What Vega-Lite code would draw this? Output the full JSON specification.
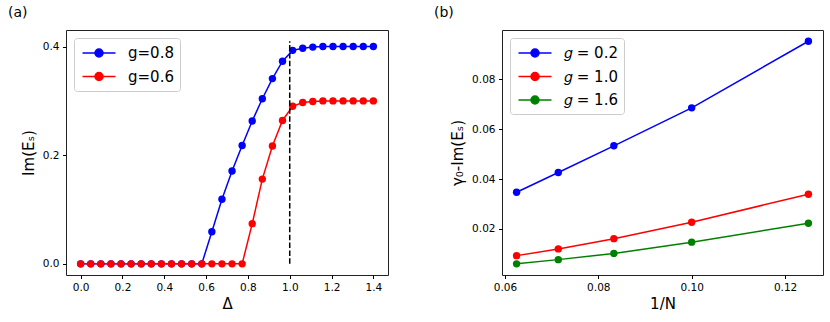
{
  "$schema": "https://vega.github.io/schema/vega-lite/v6.json",
  "background": "white",
  "padding": {"left": 7, "top": 5, "right": 5, "bottom": 5},
  "spacing": 44,
  "config": {
    "font": "DejaVu Sans",
    "view": {"stroke": "#222222", "strokeWidth": 1},
    "axis": {
      "grid": false, "domain": false, "tickColor": "black", "tickSize": 3.5, "tickWidth": 1,
      "labelFont": "DejaVu Sans", "labelFontSize": 10.5, "labelColor": "black", "labelPadding": 3.5,
      "titleFont": "DejaVu Sans", "titleFontSize": 15, "titleFontWeight": "normal", "titleColor": "black"
    },
    "legend": {
      "orient": "top-left", "offset": 7.5, "title": null,
      "labelFont": "DejaVu Sans", "labelFontSize": 15, "labelColor": "black",
      "symbolType": "M-2,0H2M0.485,0A0.485,0.485 0 1 1 -0.485,0A0.485,0.485 0 1 1 0.485,0Z",
      "symbolSize": 272, "symbolStrokeWidth": 1.5,
      "padding": 6, "strokeColor": "#cccccc", "fillColor": "white", "cornerRadius": 3,
      "rowPadding": 6.5, "labelOffset": 20, "symbolOffset": 10
    },
    "title": {"fontSize": 14, "fontWeight": "normal", "font": "DejaVu Sans", "anchor": "start", "frame": "group", "color": "black"}
  },
  "resolve": {"scale": {"color": "independent"}, "legend": {"color": "independent"}},
  "hconcat": [
    {
      "title": {"text": "(a)", "dx": -58, "offset": 10},
      "width": 322,
      "height": 245,
      "data": {"values": [
        {"delta": 0, "im": 0, "g": "g=0.8"},
        {"delta": 0.04828, "im": 0, "g": "g=0.8"},
        {"delta": 0.09655, "im": 0, "g": "g=0.8"},
        {"delta": 0.14483, "im": 0, "g": "g=0.8"},
        {"delta": 0.1931, "im": 0, "g": "g=0.8"},
        {"delta": 0.24138, "im": 0, "g": "g=0.8"},
        {"delta": 0.28966, "im": 0, "g": "g=0.8"},
        {"delta": 0.33793, "im": 0, "g": "g=0.8"},
        {"delta": 0.38621, "im": 0, "g": "g=0.8"},
        {"delta": 0.43448, "im": 0, "g": "g=0.8"},
        {"delta": 0.48276, "im": 0, "g": "g=0.8"},
        {"delta": 0.53103, "im": 0, "g": "g=0.8"},
        {"delta": 0.57931, "im": 0, "g": "g=0.8"},
        {"delta": 0.62759, "im": 0.059, "g": "g=0.8"},
        {"delta": 0.67586, "im": 0.119, "g": "g=0.8"},
        {"delta": 0.72414, "im": 0.171, "g": "g=0.8"},
        {"delta": 0.77241, "im": 0.218, "g": "g=0.8"},
        {"delta": 0.82069, "im": 0.263, "g": "g=0.8"},
        {"delta": 0.86897, "im": 0.304, "g": "g=0.8"},
        {"delta": 0.91724, "im": 0.341, "g": "g=0.8"},
        {"delta": 0.96552, "im": 0.373, "g": "g=0.8"},
        {"delta": 1.01379, "im": 0.393, "g": "g=0.8"},
        {"delta": 1.06207, "im": 0.397, "g": "g=0.8"},
        {"delta": 1.11034, "im": 0.399, "g": "g=0.8"},
        {"delta": 1.15862, "im": 0.4, "g": "g=0.8"},
        {"delta": 1.2069, "im": 0.4, "g": "g=0.8"},
        {"delta": 1.25517, "im": 0.4, "g": "g=0.8"},
        {"delta": 1.30345, "im": 0.4, "g": "g=0.8"},
        {"delta": 1.35172, "im": 0.4, "g": "g=0.8"},
        {"delta": 1.4, "im": 0.4, "g": "g=0.8"},
        {"delta": 0, "im": 0, "g": "g=0.6"},
        {"delta": 0.04828, "im": 0, "g": "g=0.6"},
        {"delta": 0.09655, "im": 0, "g": "g=0.6"},
        {"delta": 0.14483, "im": 0, "g": "g=0.6"},
        {"delta": 0.1931, "im": 0, "g": "g=0.6"},
        {"delta": 0.24138, "im": 0, "g": "g=0.6"},
        {"delta": 0.28966, "im": 0, "g": "g=0.6"},
        {"delta": 0.33793, "im": 0, "g": "g=0.6"},
        {"delta": 0.38621, "im": 0, "g": "g=0.6"},
        {"delta": 0.43448, "im": 0, "g": "g=0.6"},
        {"delta": 0.48276, "im": 0, "g": "g=0.6"},
        {"delta": 0.53103, "im": 0, "g": "g=0.6"},
        {"delta": 0.57931, "im": 0, "g": "g=0.6"},
        {"delta": 0.62759, "im": 0, "g": "g=0.6"},
        {"delta": 0.67586, "im": 0, "g": "g=0.6"},
        {"delta": 0.72414, "im": 0, "g": "g=0.6"},
        {"delta": 0.77241, "im": 0, "g": "g=0.6"},
        {"delta": 0.82069, "im": 0.074, "g": "g=0.6"},
        {"delta": 0.86897, "im": 0.156, "g": "g=0.6"},
        {"delta": 0.91724, "im": 0.217, "g": "g=0.6"},
        {"delta": 0.96552, "im": 0.264, "g": "g=0.6"},
        {"delta": 1.01379, "im": 0.29, "g": "g=0.6"},
        {"delta": 1.06207, "im": 0.297, "g": "g=0.6"},
        {"delta": 1.11034, "im": 0.299, "g": "g=0.6"},
        {"delta": 1.15862, "im": 0.3, "g": "g=0.6"},
        {"delta": 1.2069, "im": 0.3, "g": "g=0.6"},
        {"delta": 1.25517, "im": 0.3, "g": "g=0.6"},
        {"delta": 1.30345, "im": 0.3, "g": "g=0.6"},
        {"delta": 1.35172, "im": 0.3, "g": "g=0.6"},
        {"delta": 1.4, "im": 0.3, "g": "g=0.6"}
      ]},
      "layer": [
        {
          "mark": {"type": "line", "strokeWidth": 1.5, "point": {"filled": true, "size": 55, "opacity": 1}},
          "encoding": {
            "x": {"field": "delta", "type": "quantitative",
                  "scale": {"domain": [-0.07, 1.47], "nice": false, "zero": false},
                  "axis": {"title": "Δ", "values": [0, 0.2, 0.4, 0.6, 0.8, 1.0, 1.2, 1.4], "format": ".1f", "titlePadding": 4}},
            "y": {"field": "im", "type": "quantitative",
                  "scale": {"domain": [-0.0205, 0.4305], "nice": false, "zero": false},
                  "axis": {"title": "Im(Eₛ)", "values": [0, 0.2, 0.4], "format": ".1f", "titlePadding": 6}},
            "color": {"field": "g", "type": "nominal",
                      "scale": {"domain": ["g=0.8", "g=0.6"], "range": ["#0000ff", "#ff0000"]}}
          }
        },
        {
          "data": {"values": [{"x": 1.0, "ya": 0, "yb": 0.41}]},
          "mark": {"type": "rule", "color": "black", "strokeWidth": 1.5, "strokeDash": [5.5, 2.4]},
          "encoding": {
            "x": {"field": "x", "type": "quantitative"},
            "y": {"field": "ya", "type": "quantitative"},
            "y2": {"field": "yb"}
          }
        }
      ]
    },
    {
      "title": {"text": "(b)", "dx": -68, "offset": 10},
      "width": 321,
      "height": 245,
      "data": {"values": [
        {"invN": 0.0625, "val": 0.0347, "gb": "𝑔 = 0.2"},
        {"invN": 0.071429, "val": 0.0426, "gb": "𝑔 = 0.2"},
        {"invN": 0.083333, "val": 0.0533, "gb": "𝑔 = 0.2"},
        {"invN": 0.1, "val": 0.0685, "gb": "𝑔 = 0.2"},
        {"invN": 0.125, "val": 0.0952, "gb": "𝑔 = 0.2"},
        {"invN": 0.0625, "val": 0.0093, "gb": "𝑔 = 1.0"},
        {"invN": 0.071429, "val": 0.012, "gb": "𝑔 = 1.0"},
        {"invN": 0.083333, "val": 0.0161, "gb": "𝑔 = 1.0"},
        {"invN": 0.1, "val": 0.0227, "gb": "𝑔 = 1.0"},
        {"invN": 0.125, "val": 0.0339, "gb": "𝑔 = 1.0"},
        {"invN": 0.0625, "val": 0.006, "gb": "𝑔 = 1.6"},
        {"invN": 0.071429, "val": 0.0077, "gb": "𝑔 = 1.6"},
        {"invN": 0.083333, "val": 0.0102, "gb": "𝑔 = 1.6"},
        {"invN": 0.1, "val": 0.0147, "gb": "𝑔 = 1.6"},
        {"invN": 0.125, "val": 0.0223, "gb": "𝑔 = 1.6"}
      ]},
      "mark": {"type": "line", "strokeWidth": 1.5, "point": {"filled": true, "size": 55, "opacity": 1}},
      "encoding": {
        "x": {"field": "invN", "type": "quantitative",
              "scale": {"domain": [0.059375, 0.128125], "nice": false, "zero": false},
              "axis": {"title": "1/N", "values": [0.06, 0.08, 0.1, 0.12], "format": ".2f", "titlePadding": 4}},
        "y": {"field": "val", "type": "quantitative",
              "scale": {"domain": [0.00154, 0.0997], "nice": false, "zero": false},
              "axis": {"title": "γ₀-Im(Eₛ)", "values": [0.02, 0.04, 0.06, 0.08], "format": ".2f", "titlePadding": 6}},
        "color": {"field": "gb", "type": "nominal",
                  "scale": {"domain": ["𝑔 = 0.2", "𝑔 = 1.0", "𝑔 = 1.6"], "range": ["#0000ff", "#ff0000", "#008000"]}}
      }
    }
  ]
}
